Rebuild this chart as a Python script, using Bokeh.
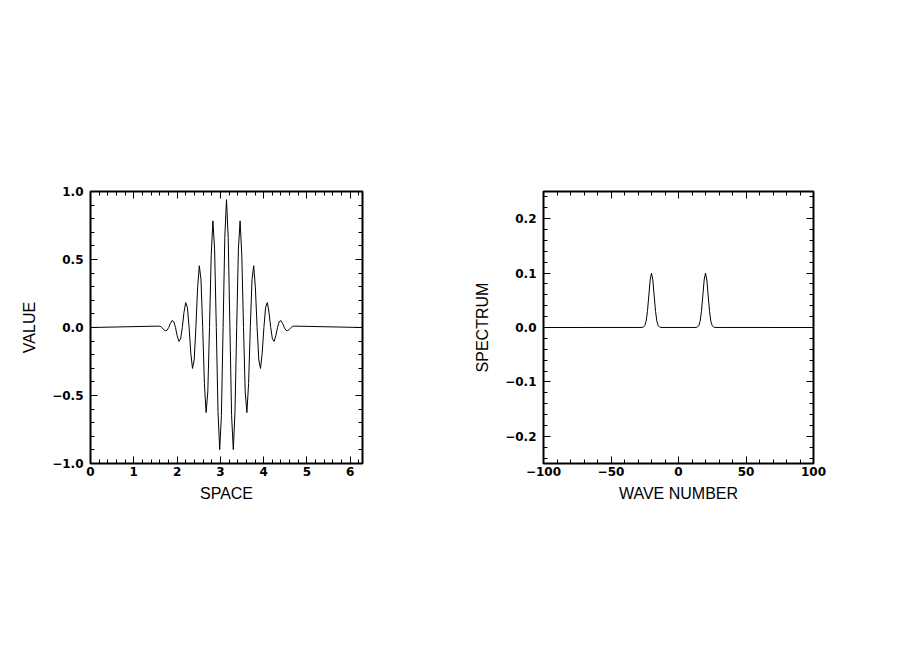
from bokeh.plotting import figure
from bokeh.models import Range1d, LinearAxis, FixedTicker, CustomJSTickFormatter
from bokeh.layouts import row
from bokeh.embed import file_html
from bokeh.resources import INLINE

# ---------------- data ----------------
space_x = [0.0,
           1.5708, 1.6101, 1.6493, 1.6886, 1.7279, 1.7671, 1.8064, 1.8457, 1.8850, 1.9242,
           1.9635, 2.0028, 2.0420, 2.0813, 2.1206, 2.1598, 2.1991, 2.2384, 2.2777, 2.3169,
           2.3562, 2.3955, 2.4347, 2.4740, 2.5133, 2.5525, 2.5918, 2.6311, 2.6704, 2.7096,
           2.7489, 2.7882, 2.8274, 2.8667, 2.9060, 2.9452, 2.9845, 3.0238, 3.0631, 3.1023,
           3.1416,
           3.1809, 3.2201, 3.2594, 3.2987, 3.3379, 3.3772, 3.4165, 3.4558, 3.4950, 3.5343,
           3.5736, 3.6128, 3.6521, 3.6914, 3.7306, 3.7699, 3.8092, 3.8485, 3.8877, 3.9270,
           3.9663, 4.0055, 4.0448, 4.0841, 4.1233, 4.1626, 4.2019, 4.2412, 4.2804, 4.3197,
           4.3590, 4.3982, 4.4375, 4.4768, 4.5160, 4.5553, 4.5946, 4.6339, 4.6731, 4.7124,
           6.2832]
value_y = [0.0,
           0.010, 0.009, 0.0, -0.014, -0.024, -0.021, 0.0, 0.030, 0.051, 0.043,
           0.0, -0.061, -0.102, -0.084, 0.0, 0.112, 0.183, 0.148, 0.0, -0.189,
           -0.301, -0.238, 0.0, 0.292, 0.454, 0.351, 0.0, -0.411, -0.625, -0.472,
           0.0, 0.528, 0.784, 0.578, 0.0, -0.619, -0.898, -0.648, 0.0, 0.662,
           0.940,
           0.662, 0.0, -0.648, -0.898, -0.619, 0.0, 0.578, 0.784, 0.528, 0.0,
           -0.472, -0.625, -0.411, 0.0, 0.351, 0.454, 0.292, 0.0, -0.238, -0.301,
           -0.189, 0.0, 0.148, 0.183, 0.112, 0.0, -0.084, -0.102, -0.061, 0.0,
           0.043, 0.051, 0.030, 0.0, -0.021, -0.024, -0.014, 0.0, 0.009, 0.010,
           0.0]

wave_number = [-100,
               -27, -26, -25, -24, -23, -22, -21, -20, -19, -18, -17, -16, -15, -14, -13,
               13, 14, 15, 16, 17, 18, 19, 20, 21, 22, 23, 24, 25, 26, 27,
               100]
spectrum = [0.0,
            0.0001, 0.0008, 0.0034, 0.0114, 0.0295, 0.0580, 0.0873, 0.1000,
            0.0873, 0.0580, 0.0295, 0.0114, 0.0034, 0.0008, 0.0001,
            0.0001, 0.0008, 0.0034, 0.0114, 0.0295, 0.0580, 0.0873, 0.1000,
            0.0873, 0.0580, 0.0295, 0.0114, 0.0034, 0.0008, 0.0001,
            0.0]

left_xticks = [0, 1, 2, 3, 4, 5, 6]
left_yticks = [-1.0, -0.5, 0.0, 0.5, 1.0]
right_xticks = [-100, -50, 0, 50, 100]
right_yticks = [-0.2, -0.1, 0.0, 0.1, 0.2]

# ---------------- styling helpers ----------------
TICK_FONT = "DejaVu Sans"
LABEL_FONT = "Liberation Sans"


def fmt(decimals):
    return CustomJSTickFormatter(args=dict(d=decimals), code="""
        const s = Math.abs(tick).toFixed(d);
        return (tick < -1e-12 ? '\\u2212' : '') + s;
    """)


def blank():
    return CustomJSTickFormatter(code="return '';")


def minor_list(lo, hi, step, majors):
    out = []
    n = int(round((hi - lo) / step))
    for i in range(n + 1):
        v = round(lo + i * step, 6)
        if all(abs(v - m) > 1e-9 for m in majors):
            out.append(v)
    return out


def style_axis(ax, ticker, formatter, label=None):
    ax.ticker = ticker
    ax.formatter = formatter
    ax.axis_line_color = None
    ax.major_tick_in = 7
    ax.major_tick_out = 0
    ax.minor_tick_in = 4
    ax.minor_tick_out = 0
    ax.major_tick_line_color = "black"
    ax.minor_tick_line_color = "black"
    ax.major_tick_line_width = 1
    ax.minor_tick_line_width = 1
    ax.major_label_text_font = TICK_FONT
    ax.major_label_text_font_style = "bold"
    ax.major_label_text_font_size = "12px"
    ax.major_label_text_color = "black"
    if label is not None:
        ax.axis_label = label
        ax.axis_label_text_font = LABEL_FONT
        ax.axis_label_text_font_style = "normal"
        ax.axis_label_text_font_size = "16px"
        ax.axis_label_text_color = "black"


def make_panel(xr, yr, frame_w, left_border, right_border,
               xt, xminor, yt, yminor, xdec, ydec, xlabel, ylabel):
    p = figure(frame_width=frame_w, frame_height=272,
               x_range=Range1d(*xr), y_range=Range1d(*yr),
               output_backend="svg", toolbar_location=None,
               min_border_left=left_border, min_border_right=right_border,
               min_border_top=191, min_border_bottom=150)
    p.grid.visible = False
    p.outline_line_color = "black"
    p.outline_line_width = 2
    p.background_fill_color = "white"
    p.border_fill_color = "white"

    xtick = FixedTicker(ticks=xt, minor_ticks=xminor)
    ytick = FixedTicker(ticks=yt, minor_ticks=yminor)

    style_axis(p.xaxis[0], xtick, fmt(xdec), xlabel)
    p.xaxis[0].major_label_standoff = 3
    p.xaxis[0].axis_label_standoff = 6
    style_axis(p.yaxis[0], ytick, fmt(ydec), ylabel)
    p.yaxis[0].major_label_standoff = 7
    p.yaxis[0].axis_label_standoff = 11

    top = LinearAxis()
    style_axis(top, FixedTicker(ticks=xt, minor_ticks=xminor), blank())
    p.add_layout(top, "above")
    right = LinearAxis()
    style_axis(right, FixedTicker(ticks=yt, minor_ticks=yminor), blank())
    p.add_layout(right, "right")
    return p


p1 = make_panel((0, 6.2832), (-1.0, 1.0), 272, 90, 46,
                left_xticks, minor_list(0, 6.2, 0.2, left_xticks),
                left_yticks, minor_list(-1.0, 1.0, 0.1, left_yticks),
                0, 1, "SPACE", "VALUE")
p1.line(space_x, value_y, line_color="black", line_width=1)

p2 = make_panel((-100, 100), (-0.25, 0.25), 270, 135, 60,
                right_xticks, minor_list(-100, 100, 10, right_xticks),
                right_yticks, minor_list(-0.24, 0.24, 0.02, right_yticks),
                0, 1, "WAVE NUMBER", "SPECTRUM")
p2.line(wave_number, spectrum, line_color="black", line_width=1)

layout = row(p1, p2)
open("out.html", "w").write(file_html(layout, INLINE))
